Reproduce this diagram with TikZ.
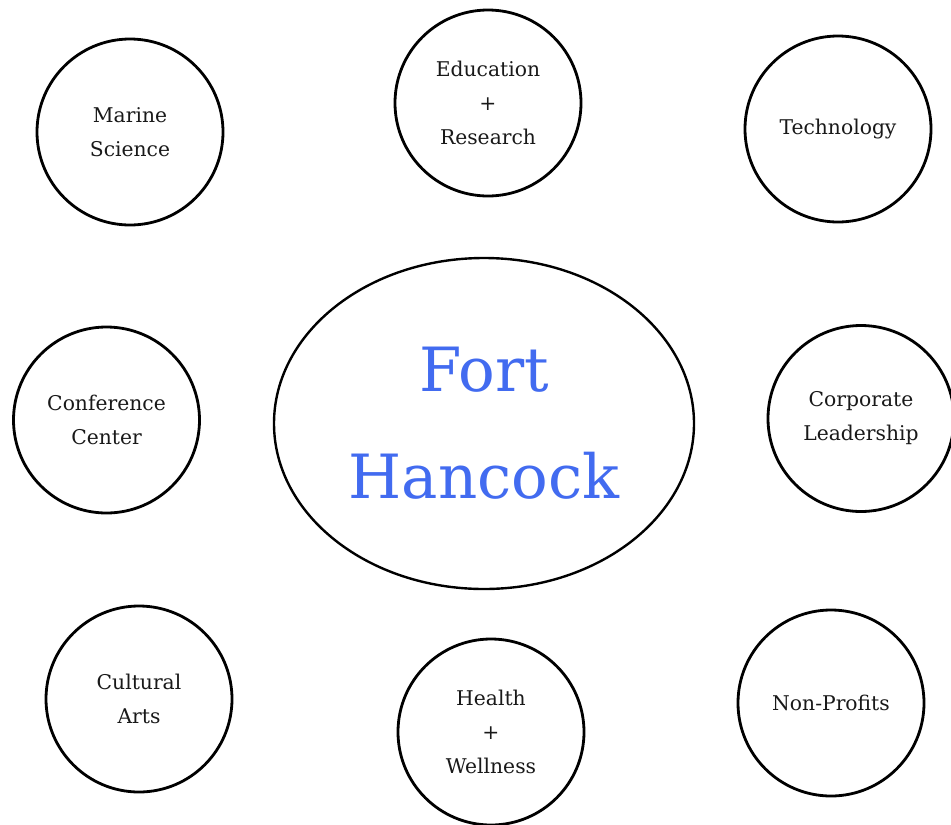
\documentclass[tikz,border=0pt]{standalone}
\usepackage{fontspec}
\setmainfont{DejaVu Serif}
\usetikzlibrary{shapes.geometric}
\definecolor{fortblue}{RGB}{66,107,240}
\definecolor{labelgray}{RGB}{25,25,25}
\tikzset{
  topic/.style={circle, draw=black, line width=2.8pt, minimum size=186pt, inner sep=0pt,
    align=center, text=labelgray, font=\fontsize{20.3}{34}\selectfont},
  hub/.style={ellipse, draw=black, line width=2.4pt, minimum width=420pt, minimum height=331pt,
    inner sep=0pt, align=center, text=fortblue, font=\fontsize{61}{107}\selectfont}
}
\begin{document}
\begin{tikzpicture}[x=1pt,y=-1pt]
\useasboundingbox (0,0) rectangle (951,825);
\fill[white] (0,0) rectangle (951,825);
\node[hub] (fort) at (484,423.5) {Fort\\Hancock};
\node[topic] (marine) at (130,132) {Marine\\Science};
\node[topic] (edu) at (488,103) {Education\\+\\Research};
\node[topic] (tech) at (838,129) {Technology};
\node[topic] (conf) at (106.5,420) {Conference\\Center};
\node[topic] (corp) at (861,418.5) {Corporate\\Leadership};
\node[topic] (cult) at (139,699) {Cultural\\Arts};
\node[topic] (health) at (491,732) {Health\\+\\Wellness};
\node[topic] (nonprof) at (831,703) {Non-Profits};
\end{tikzpicture}
\end{document}
